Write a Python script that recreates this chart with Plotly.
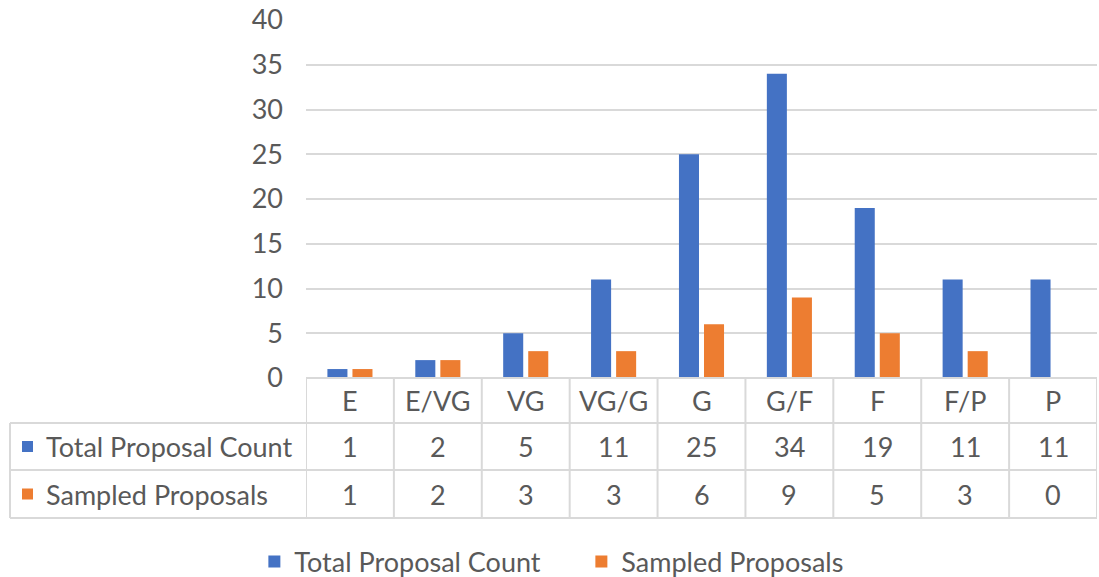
import plotly.graph_objects as go

# Rating categories and proposal counts
categories = ["E", "E/VG", "VG", "VG/G", "G", "G/F", "F", "F/P", "P"]
total_counts = [1, 2, 5, 11, 25, 34, 19, 11, 11]
sampled_counts = [1, 2, 3, 3, 6, 9, 5, 3, 0]
series_names = ["Total Proposal Count", "Sampled Proposals"]
series_colors = ["#4472C4", "#ED7D31"]

W, H = 1099, 577
PL, PR, PT, PB = 306, 1097, 20, 378  # plot area edges in px

FONT = "Lato"
TXT = "#595959"
GRID = "#D9D9D9"
FS = 27


def py(p):
    return (PB - p) / (PB - PT)


def px(p):
    return (p - PL) / (PR - PL)


fig = go.Figure()
for name, vals, col in zip(series_names, [total_counts, sampled_counts], series_colors):
    fig.add_trace(go.Bar(x=list(range(len(categories))), y=vals, name=name,
                         marker=dict(color=col, line=dict(width=0))))

shapes = []
annotations = []

# data table grid
row_tops = [PB, 423, 470, 518]
for i, yp in enumerate(row_tops):
    shapes.append(dict(type="line", xref="paper", yref="paper",
                       x0=0 if i == 0 else px(10), x1=1, y0=py(yp), y1=py(yp),
                       line=dict(color=GRID, width=2)))
for k in range(len(categories) + 1):
    shapes.append(dict(type="line", xref="x", yref="paper",
                       x0=k - 0.5, x1=k - 0.5, y0=py(PB), y1=py(518),
                       line=dict(color=GRID, width=2)))
shapes.append(dict(type="line", xref="paper", yref="paper",
                   x0=px(10), x1=px(10), y0=py(423), y1=py(518),
                   line=dict(color=GRID, width=2)))

# header row with category names
for i, c in enumerate(categories):
    annotations.append(dict(x=i, y=py(400.5), xref="x", yref="paper", text=c,
                            showarrow=False, xanchor="center", yanchor="middle",
                            font=dict(family=FONT, size=FS, color=TXT)))

# value rows with series keys
for r, (name, vals, col) in enumerate(zip(series_names, [total_counts, sampled_counts], series_colors)):
    yc = (row_tops[r + 1] + row_tops[r + 2]) / 2
    shapes.append(dict(type="rect", xref="paper", yref="paper",
                       x0=px(22), x1=px(33), y0=py(yc - 5.5), y1=py(yc + 5.5),
                       fillcolor=col, line=dict(width=0)))
    annotations.append(dict(x=px(44), y=py(yc), xref="paper", yref="paper", text=name,
                            showarrow=False, xanchor="left", yanchor="middle",
                            font=dict(family=FONT, size=FS, color=TXT)))
    for i, v in enumerate(vals):
        annotations.append(dict(x=i, y=py(yc), xref="x", yref="paper", text=str(v),
                                showarrow=False, xanchor="center", yanchor="middle",
                                font=dict(family=FONT, size=FS, color=TXT)))

fig.update_layout(
    width=W, height=H,
    margin=dict(l=PL, r=W - PR, t=PT, b=H - PB, pad=0),
    paper_bgcolor="white", plot_bgcolor="white",
    barmode="group", bargap=0.43, bargroupgap=0.2,
    font=dict(family=FONT, size=FS, color=TXT),
    xaxis=dict(range=[-0.5, len(categories) - 0.5], showticklabels=False,
               showgrid=False, zeroline=False, showline=False, fixedrange=True),
    yaxis=dict(range=[0, 40], dtick=5, tick0=0, showgrid=True, gridcolor=GRID,
               gridwidth=1.5, zeroline=False, showline=False, ticks="",
               ticklabelstandoff=22, tickfont=dict(family=FONT, size=FS, color=TXT)),
    legend=dict(orientation="h", xref="container", yref="container",
                x=0.529, xanchor="center", y=1 - 562 / H, yanchor="middle",
                font=dict(family=FONT, size=FS, color=TXT), entrywidth=282,
                traceorder="normal"),
    shapes=shapes, annotations=annotations,
)

fig.write_html("out.html")
